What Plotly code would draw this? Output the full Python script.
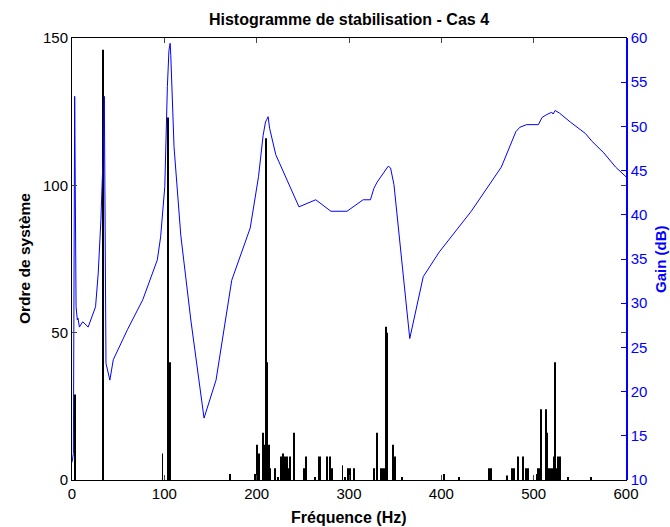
import plotly.graph_objects as go

# Histogram of stabilisation (system order counts per frequency)
hist_freq = [3.0, 33.5, 98, 104, 106, 171, 198, 200, 203, 207, 208, 209, 210, 211, 213, 214,
             219.6, 223, 226, 228.4, 230.2, 232.4, 234.6, 236, 240, 251, 253, 263, 267, 269,
             276, 279, 282, 293, 296, 299, 301, 305, 327, 330.5, 335, 337, 339, 340, 341,
             347.6, 350, 357, 402.5, 419.6, 452, 454, 471, 477, 479, 483, 488.7, 492, 494,
             504, 505, 506.5, 508, 513, 514.5, 516, 518, 519.6, 522, 523, 524.5, 526, 527.5,
             529, 537, 562]
hist_count = [29, 146, 9, 123, 40, 2, 2, 12, 9, 16, 12, 9, 116, 40, 12, 4,
              4, 1, 8, 9, 8, 8, 4, 8, 16, 4, 8, 1, 8, 8,
              8, 8, 4, 5, 1, 4, 4, 4, 4, 16, 4, 4, 4, 52, 50,
              12, 8, 1, 2, 1, 4, 4, 1.5, 4, 4, 8, 8, 4, 4,
              2, 4, 4, 24, 24, 16, 4, 4, 4, 8, 40, 4, 8, 4,
              8, 1, 1]

# Gain curve (dB)
gain_freq = [0, 1.5, 2.9, 4.4, 5.8, 6.5, 8, 11.6, 17.5, 21.8, 25.5, 28.4, 31.3, 33.8, 35.0,
             36.8, 41, 44.7, 60, 76.7, 92.4, 96, 100.5, 103.3, 105, 106.3, 107, 110.5,
             117.8, 128.7, 137.8, 143, 156, 173, 193, 202, 207, 209.6, 211, 212.4, 214,
             220.7, 245.8, 264, 280.4, 297.8, 315.3, 323.2, 327, 330.5, 342.5, 345, 348.7,
             365.8, 380.4, 397.8, 432.4, 465, 480.7, 485, 492.4, 505.1, 509, 513.5, 519.6,
             521, 523.3, 528, 539.6, 556, 563.3, 576, 588.7, 600]
gain_db = [12, 13, 53.4, 29.6, 28.1, 28.3, 27.3, 27.9, 27.3, 28.5, 29.6, 33.4, 39.4, 47, 53.4,
           23.2, 21.3, 23.6, 27, 30.4, 34.9, 37.5, 43.2, 54.5, 58.6, 59.4, 58, 47.7,
           37.7, 28.1, 21.3, 17.0, 21.3, 32.6, 38.5, 44.3, 49.0, 50.5, 50.8, 51.1, 49.8,
           46.8, 40.9, 41.7, 40.4, 40.4, 41.7, 41.7, 43, 43.7, 45.5, 45.3, 43.4,
           26.0, 33.0, 35.8, 40.4, 45.4, 49.4, 49.9, 50.2, 50.2, 51.0, 51.3, 51.6,
           51.4, 51.8, 51.5, 50.5, 49.2, 48.3, 47.0, 45.4, 44.3]

x_ticks = [0, 100, 200, 300, 400, 500, 600]
y_ticks = [0, 50, 100, 150]
y2_ticks = [10, 15, 20, 25, 30, 35, 40, 45, 50, 55, 60]

FONT = "Liberation Sans, Arial, sans-serif"
BLUE = "#0000ff"
TICK = 15

fig = go.Figure()
fig.add_trace(go.Bar(x=hist_freq, y=hist_count, width=[1.0] * len(hist_freq),
                     marker=dict(color="black", line=dict(width=0)), yaxis="y"))
fig.add_trace(go.Scatter(x=gain_freq, y=gain_db, mode="lines",
                         line=dict(color=BLUE, width=1), yaxis="y2"))

fig.update_layout(
    width=670, height=527,
    margin=dict(l=72, r=44, t=38, b=47),
    paper_bgcolor="white", plot_bgcolor="white",
    showlegend=False,
    font=dict(family=FONT, size=TICK, color="black"),
    title=dict(text="<b>Histogramme de stabilisation - Cas 4</b>",
               x=(72 + 626) / 2 / 670, xanchor="center",
               y=1 - 19 / 527, yanchor="middle", yref="container",
               font=dict(size=16, family=FONT)),
    xaxis=dict(range=[0, 600], tickvals=x_ticks, ticks="inside", ticklen=5,
               showline=True, linecolor="black", linewidth=1, mirror="ticks",
               showgrid=False, zeroline=False, tickfont=dict(size=TICK)),
    yaxis=dict(range=[0, 150], tickvals=y_ticks, ticks="inside", ticklen=5,
               showline=True, linecolor="black", linewidth=1, mirror="ticks",
               showgrid=False, zeroline=False, tickfont=dict(size=TICK)),
    yaxis2=dict(range=[10, 60], tickvals=y2_ticks, overlaying="y", side="right",
                ticks="inside", ticklen=5, showline=True, linecolor=BLUE,
                linewidth=1.5, showgrid=False, zeroline=False,
                tickfont=dict(size=TICK, color=BLUE), tickcolor=BLUE),
    annotations=[
        dict(text="<b>Fréquence (Hz)</b>", xref="paper", yref="paper",
             x=0.5, y=0, yshift=-37, xanchor="center", yanchor="middle",
             showarrow=False, font=dict(size=16)),
        dict(text="<b>Ordre de système</b>", xref="paper", yref="paper",
             x=0, xshift=-48, y=0.5, textangle=-90, xanchor="center",
             yanchor="middle", showarrow=False, font=dict(size=15.5)),
        dict(text="<b>Gain (dB)</b>", xref="paper", yref="paper",
             x=1, xshift=34, y=0.5, textangle=-90, xanchor="center",
             yanchor="middle", showarrow=False, font=dict(size=15, color=BLUE)),
    ],
)

fig.write_html("out.html")
